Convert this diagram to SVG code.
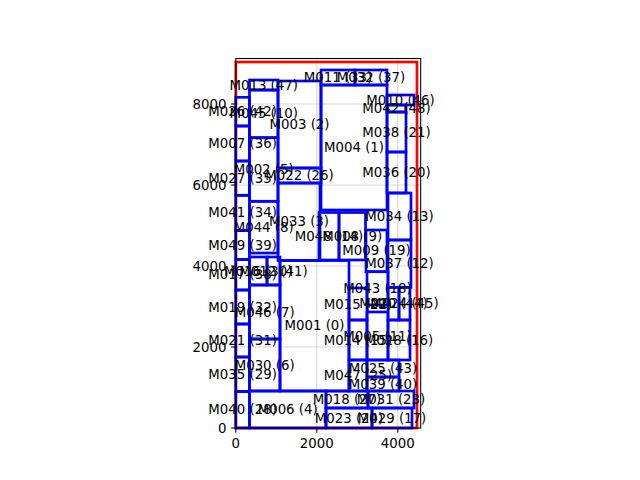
<svg xmlns="http://www.w3.org/2000/svg" width="640" height="480" viewBox="0 0 640 480">
<style>
.m{fill:none;stroke:#0000ff;stroke-width:2.7}
.c{fill:none;stroke:#ff0000;stroke-width:2.7}
.g{stroke:#b0b0b0;stroke-width:1.07;stroke-opacity:0.5}
.t{font-family:"DejaVu Sans","Liberation Sans",sans-serif;font-size:13.33px;fill:#000;text-anchor:middle}
.tk{font-family:"DejaVu Sans","Liberation Sans",sans-serif;font-size:13.33px;fill:#000}
.ax{fill:none;stroke:#000;stroke-width:1.07}
</style>
<rect width="640" height="480" fill="#fff"/>
<g id="grid">
<line class="g" x1="316.8" y1="58.5" x2="316.8" y2="428"/>
<line class="g" x1="397.8" y1="58.5" x2="397.8" y2="428"/>
<line class="g" x1="235.8" y1="347" x2="420.7" y2="347"/>
<line class="g" x1="235.8" y1="266" x2="420.7" y2="266"/>
<line class="g" x1="235.8" y1="185" x2="420.7" y2="185"/>
<line class="g" x1="235.8" y1="104" x2="420.7" y2="104"/>
</g>
<g id="chip"><rect class="c" x="235.8" y="62" width="181.2" height="366"/></g>
<g id="modules">
<g id="M026"><rect class="m" x="235.8" y="97.3" width="13.7" height="28.7"/></g>
<g id="M007"><rect class="m" x="235.8" y="126" width="13.7" height="35"/></g>
<g id="M027"><rect class="m" x="235.8" y="161" width="13.7" height="34.3"/></g>
<g id="M041"><rect class="m" x="235.8" y="195.3" width="13.7" height="35.2"/></g>
<g id="M049"><rect class="m" x="235.8" y="230.5" width="13.7" height="29"/></g>
<g id="M017"><rect class="m" x="235.8" y="259.5" width="13.7" height="30.5"/></g>
<g id="M019"><rect class="m" x="235.8" y="290" width="13.7" height="34"/></g>
<g id="M021"><rect class="m" x="235.8" y="324" width="13.7" height="33"/></g>
<g id="M035"><rect class="m" x="235.8" y="357" width="13.7" height="34.5"/></g>
<g id="M040"><rect class="m" x="235.8" y="391.5" width="13.7" height="36.5"/></g>
<g id="M013"><rect class="m" x="249.5" y="80" width="28.5" height="10"/></g>
<g id="M045"><rect class="m" x="249.5" y="90" width="28.5" height="47.7"/></g>
<g id="M002"><rect class="m" x="249.5" y="137.7" width="28.5" height="63.6"/></g>
<g id="M044"><rect class="m" x="249.5" y="201.3" width="28.5" height="51.7"/></g>
<g id="M016"><rect class="m" x="249.5" y="257" width="17.5" height="28"/></g>
<g id="M012"><rect class="m" x="267" y="257" width="13" height="28"/></g>
<g id="M046"><rect class="m" x="249.5" y="285" width="30.5" height="54"/></g>
<g id="M030"><rect class="m" x="249.5" y="339" width="30.5" height="52"/></g>
<g id="M003"><rect class="m" x="278" y="81" width="43" height="87"/></g>
<g id="M022"><rect class="m" x="278" y="168" width="43" height="15"/></g>
<g id="M033"><rect class="m" x="278" y="183" width="42" height="77.5"/></g>
<g id="M001"><rect class="m" x="280" y="260.5" width="69" height="130.5"/></g>
<g id="M048"><rect class="m" x="319" y="212.5" width="20" height="47.5"/></g>
<g id="M008"><rect class="m" x="339" y="212.5" width="26.5" height="47.5"/></g>
<g id="M011"><rect class="m" x="321" y="70" width="34" height="15"/></g>
<g id="M032"><rect class="m" x="355" y="70" width="32" height="15"/></g>
<g id="M004"><rect class="m" x="321" y="85" width="66" height="125"/></g>
<g id="M010"><rect class="m" x="387" y="95" width="27" height="10"/></g>
<g id="M042"><rect class="m" x="387" y="105" width="19" height="7"/></g>
<g id="M038"><rect class="m" x="387" y="112" width="19" height="40"/></g>
<g id="M036"><rect class="m" x="387" y="152" width="19" height="41"/></g>
<g id="M034"><rect class="m" x="388" y="193" width="23" height="47"/></g>
<g id="M009"><rect class="m" x="366" y="230" width="21" height="41.7"/></g>
<g id="M037"><rect class="m" x="388" y="240" width="23" height="47.3"/></g>
<g id="M043"><rect class="m" x="367" y="271.7" width="21" height="33.3"/></g>
<g id="M015"><rect class="m" x="349" y="288" width="18" height="32"/></g>
<g id="M020"><rect class="m" x="388" y="287.3" width="11" height="32.7"/></g>
<g id="M024"><rect class="m" x="399" y="287.3" width="11" height="32.7"/></g>
<g id="M005"><rect class="m" x="367" y="312" width="21" height="48"/></g>
<g id="M014"><rect class="m" x="349" y="320" width="18" height="40"/></g>
<g id="M028"><rect class="m" x="388" y="320" width="22" height="40"/></g>
<g id="M047"><rect class="m" x="349" y="360" width="18" height="31"/></g>
<g id="M025"><rect class="m" x="367" y="360" width="32" height="17"/></g>
<g id="M039"><rect class="m" x="367" y="377" width="32" height="14"/></g>
<g id="M006"><rect class="m" x="249.5" y="391" width="76.5" height="37"/></g>
<g id="M018"><rect class="m" x="326" y="391" width="42" height="17"/></g>
<g id="M031"><rect class="m" x="368" y="391" width="46" height="17"/></g>
<g id="M023"><rect class="m" x="326" y="408" width="46" height="20"/></g>
<g id="M029"><rect class="m" x="372" y="408" width="40" height="20"/></g>
</g>
<g id="labels">
<text class="t" x="242.6" y="116.2">M026 (42)</text>
<text class="t" x="242.6" y="148">M007 (36)</text>
<text class="t" x="242.6" y="182.6">M027 (35)</text>
<text class="t" x="242.6" y="217.4">M041 (34)</text>
<text class="t" x="242.6" y="249.5">M049 (39)</text>
<text class="t" x="242.6" y="279.2">M017 (38)</text>
<text class="t" x="242.6" y="311.5">M019 (32)</text>
<text class="t" x="242.6" y="345">M021 (31)</text>
<text class="t" x="242.6" y="378.7">M035 (29)</text>
<text class="t" x="242.6" y="414.2">M040 (28)</text>
<text class="t" x="263.7" y="89.5">M013 (47)</text>
<text class="t" x="263.7" y="118.3">M045 (10)</text>
<text class="t" x="263.7" y="174">M002 (5)</text>
<text class="t" x="263.7" y="231.6">M044 (8)</text>
<text class="t" x="258.2" y="275.5">M016 (30)</text>
<text class="t" x="273.5" y="275.5">M012 (41)</text>
<text class="t" x="264.7" y="316.5">M046 (7)</text>
<text class="t" x="264.7" y="369.5">M030 (6)</text>
<text class="t" x="299.5" y="129">M003 (2)</text>
<text class="t" x="299.5" y="180">M022 (26)</text>
<text class="t" x="299" y="226.2">M033 (3)</text>
<text class="t" x="314.5" y="330.2">M001 (0)</text>
<text class="t" x="329" y="240.7">M048 (14)</text>
<text class="t" x="352.2" y="240.7">M008 (9)</text>
<text class="t" x="338" y="82">M011 (33)</text>
<text class="t" x="371" y="82">M032 (37)</text>
<text class="t" x="354" y="152">M004 (1)</text>
<text class="t" x="400.5" y="104.5">M010 (46)</text>
<text class="t" x="396.5" y="113">M042 (48)</text>
<text class="t" x="396.5" y="136.5">M038 (21)</text>
<text class="t" x="396.5" y="177">M036 (20)</text>
<text class="t" x="399.5" y="221">M034 (13)</text>
<text class="t" x="376.5" y="255.3">M009 (19)</text>
<text class="t" x="399.5" y="268.1">M037 (12)</text>
<text class="t" x="377.5" y="292.8">M043 (18)</text>
<text class="t" x="358" y="308.5">M015 (22)</text>
<text class="t" x="393.5" y="308.1">M020 (44)</text>
<text class="t" x="404.5" y="308.1">M024 (45)</text>
<text class="t" x="377.5" y="340.5">M005 (11)</text>
<text class="t" x="358" y="344.5">M014 (15)</text>
<text class="t" x="399" y="344.5">M028 (16)</text>
<text class="t" x="358" y="380">M047 (25)</text>
<text class="t" x="383" y="373">M025 (43)</text>
<text class="t" x="383" y="388.5">M039 (40)</text>
<text class="t" x="287.7" y="414">M006 (4)</text>
<text class="t" x="347" y="404">M018 (27)</text>
<text class="t" x="391" y="404">M031 (23)</text>
<text class="t" x="349" y="422.5">M023 (24)</text>
<text class="t" x="392" y="422.5">M029 (17)</text>
</g>
<g id="axes">
<rect class="ax" x="235.8" y="58.5" width="184.9" height="369.5"/>
<line class="ax" x1="235.8" y1="428" x2="235.8" y2="432.7"/>
<line class="ax" x1="316.8" y1="428" x2="316.8" y2="432.7"/>
<line class="ax" x1="397.8" y1="428" x2="397.8" y2="432.7"/>
<line class="ax" x1="231.1" y1="428" x2="235.8" y2="428"/>
<line class="ax" x1="231.1" y1="347" x2="235.8" y2="347"/>
<line class="ax" x1="231.1" y1="266" x2="235.8" y2="266"/>
<line class="ax" x1="231.1" y1="185" x2="235.8" y2="185"/>
<line class="ax" x1="231.1" y1="104" x2="235.8" y2="104"/>
<text class="tk" x="235.8" y="447.5" text-anchor="middle">0</text>
<text class="tk" x="316.8" y="447.5" text-anchor="middle">2000</text>
<text class="tk" x="397.8" y="447.5" text-anchor="middle">4000</text>
<text class="tk" x="226.5" y="432.8" text-anchor="end">0</text>
<text class="tk" x="226.5" y="351.8" text-anchor="end">2000</text>
<text class="tk" x="226.5" y="270.8" text-anchor="end">4000</text>
<text class="tk" x="226.5" y="189.8" text-anchor="end">6000</text>
<text class="tk" x="226.5" y="108.8" text-anchor="end">8000</text>
</g>
</svg>
